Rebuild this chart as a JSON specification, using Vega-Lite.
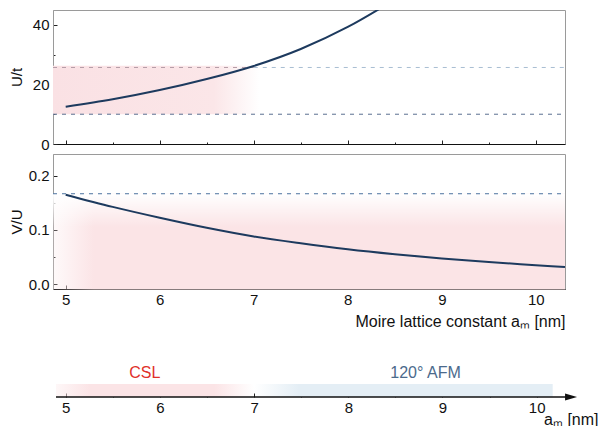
{
  "$schema": "https://vega.github.io/schema/vega-lite/v6.json",
  "padding": {"left": 8, "top": 9, "right": 0, "bottom": 0},
  "bounds": "flush",
  "spacing": 10,
  "config": {
    "font": "Liberation Sans",
    "view": {"stroke": "#9a9a9a", "strokeWidth": 1},
    "axis": {"grid": false, "labelFontSize": 15, "titleFontSize": 16, "titleFontWeight": "normal", "labelColor": "#111", "titleColor": "#111", "tickColor": "#222", "labelFont": "Liberation Sans", "titleFont": "Liberation Sans"}
  },
  "datasets": {
    "ut": [
      {"a": 5.0, "v": 12.5}, {"a": 5.5, "v": 15.0}, {"a": 6.0, "v": 18.1}, {"a": 6.5, "v": 21.8},
      {"a": 7.0, "v": 26.2}, {"a": 7.5, "v": 31.9}, {"a": 8.0, "v": 39.3}, {"a": 8.5, "v": 48.5}
    ],
    "vu": [
      {"a": 5.0, "v": 0.165}, {"a": 5.5, "v": 0.1425}, {"a": 6.0, "v": 0.1225}, {"a": 6.5, "v": 0.104},
      {"a": 7.0, "v": 0.088}, {"a": 7.5, "v": 0.0755}, {"a": 8.0, "v": 0.0645}, {"a": 8.5, "v": 0.0553},
      {"a": 9.0, "v": 0.0473}, {"a": 9.5, "v": 0.0407}, {"a": 10.0, "v": 0.035}, {"a": 10.31, "v": 0.0315}
    ],
    "levels": [
      {"panel": "Ut", "kind": "upper-left", "x0": 4.865, "x1": 7.0, "y": 25.7},
      {"panel": "Ut", "kind": "upper-right", "x0": 7.0, "x1": 10.31, "y": 25.7},
      {"panel": "Ut", "kind": "lower", "x0": 4.865, "x1": 10.31, "y": 10},
      {"panel": "VU", "kind": "vu", "x0": 4.865, "x1": 10.31, "y": 0.1667}
    ],
    "regions": [
      {"panel": "Ut", "x0": 4.865, "x1": 7.06, "y0": 10, "y1": 26.3},
      {"panel": "VU", "x0": 4.865, "x1": 10.31, "y0": -0.01, "y1": 0.1667},
      {"panel": "VUfade", "x0": 4.865, "x1": 10.31, "y0": 0.105, "y1": 0.1667},
      {"panel": "CSL", "x0": 4.897, "x1": 7.0, "y0": 0, "y1": 0.133},
      {"panel": "AFM", "x0": 7.0, "x1": 10.17, "y0": 0, "y1": 0.133}
    ],
    "phases": [
      {"name": "CSL", "a": 5.84},
      {"name": "120° AFM", "a": 8.82}
    ],
    "arrow": [
      {"start": 4.897, "end": 10.33, "tip": 10.365, "level": 0}
    ]
  },
  "resolve": {"scale": {"x": "independent", "y": "independent", "color": "independent"}},
  "vconcat": [
    {
      "width": 512,
      "height": 134,
      "layer": [
        {
          "data": {"name": "regions"},
          "transform": [{"filter": "datum.panel === 'Ut'"}],
          "mark": {"type": "rect", "fill": {"gradient": "linear", "x1": 0, "y1": 0, "x2": 1, "y2": 0, "stops": [{"offset": 0, "color": "#fae1e4"}, {"offset": 0.78, "color": "#fbe6e8"}, {"offset": 1, "color": "rgba(251,230,232,0)"}]}},
          "encoding": {
            "x": {"field": "x0", "type": "quantitative"},
            "x2": {"field": "x1"},
            "y": {"field": "y0", "type": "quantitative"},
            "y2": {"field": "y1"}
          }
        },
        {
          "data": {"name": "levels"},
          "transform": [{"filter": "datum.panel === 'Ut'"}],
          "mark": {"type": "rule", "strokeDash": [4, 5], "strokeWidth": 1},
          "encoding": {
            "x": {"field": "x0", "type": "quantitative"},
            "x2": {"field": "x1"},
            "y": {"field": "y", "type": "quantitative"},
            "color": {"field": "kind", "type": "nominal", "scale": {"domain": ["upper-left", "upper-right", "lower"], "range": ["#b49ca6", "#a8bed2", "#5a7090"]}, "legend": null}
          }
        },
        {
          "data": {"name": "ut"},
          "mark": {"type": "line", "color": "#1d3a5e", "strokeWidth": 2, "interpolate": "monotone", "clip": true},
          "encoding": {
            "x": {"field": "a", "type": "quantitative"},
            "y": {"field": "v", "type": "quantitative"}
          }
        }
      ],
      "encoding": {
        "x": {"type": "quantitative", "scale": {"domain": [4.865, 10.31], "nice": false, "zero": false},
          "axis": {"values": [5, 5.5, 6, 6.5, 7, 7.5, 8, 8.5, 9, 9.5, 10], "labels": false, "title": null, "domainColor": "#111", "tickSize": {"condition": {"test": "datum.value % 1 === 0", "value": -4}, "value": -2}}},
        "y": {"type": "quantitative", "scale": {"domain": [0, 45], "nice": false, "zero": false},
          "axis": {"values": [0, 10, 20, 30, 40], "labelExpr": "datum.value % 20 === 0 ? datum.label : ''", "title": "U/t", "titleFontSize": 15, "titleX": -32, "titleBaseline": "alphabetic", "domainColor": "#9a9a9a", "labelPadding": 8, "tickSize": {"condition": {"test": "datum.value % 20 === 0", "value": -4}, "value": -2}}}
      }
    },
    {
      "width": 512,
      "height": 135,
      "layer": [
        {
          "data": {"name": "regions"},
          "transform": [{"filter": "datum.panel === 'VU'"}],
          "mark": {"type": "rect", "fill": {"gradient": "linear", "x1": 0, "y1": 0, "x2": 1, "y2": 0, "stops": [{"offset": 0, "color": "rgba(251,228,230,0.2)"}, {"offset": 0.08, "color": "#fbe4e6"}, {"offset": 1, "color": "#fbe4e6"}]}},
          "encoding": {
            "x": {"field": "x0", "type": "quantitative"},
            "x2": {"field": "x1"},
            "y": {"field": "y0", "type": "quantitative"},
            "y2": {"field": "y1"}
          }
        },
        {
          "data": {"name": "regions"},
          "transform": [{"filter": "datum.panel === 'VUfade'"}],
          "mark": {"type": "rect", "fill": {"gradient": "linear", "x1": 0, "y1": 0, "x2": 0, "y2": 1, "stops": [{"offset": 0, "color": "rgba(255,255,255,1)"}, {"offset": 1, "color": "rgba(255,255,255,0)"}]}},
          "encoding": {
            "x": {"field": "x0", "type": "quantitative"},
            "x2": {"field": "x1"},
            "y": {"field": "y0", "type": "quantitative"},
            "y2": {"field": "y1"}
          }
        },
        {
          "data": {"name": "levels"},
          "transform": [{"filter": "datum.panel === 'VU'"}],
          "mark": {"type": "rule", "strokeDash": [4, 5], "strokeWidth": 1, "color": "#4d74a0"},
          "encoding": {
            "x": {"field": "x0", "type": "quantitative"},
            "x2": {"field": "x1"},
            "y": {"field": "y", "type": "quantitative"}
          }
        },
        {
          "data": {"name": "vu"},
          "mark": {"type": "line", "color": "#1d3a5e", "strokeWidth": 2, "interpolate": "monotone", "clip": true},
          "encoding": {
            "x": {"field": "a", "type": "quantitative"},
            "y": {"field": "v", "type": "quantitative"}
          }
        }
      ],
      "encoding": {
        "x": {"type": "quantitative", "scale": {"domain": [4.865, 10.31], "nice": false, "zero": false},
          "axis": {"values": [5, 5.5, 6, 6.5, 7, 7.5, 8, 8.5, 9, 9.5, 10], "labelExpr": "datum.value % 1 === 0 ? format(datum.value, 'd') : ''", "labelPadding": 7, "title": "Moire lattice constant aₘ [nm]", "titleAnchor": "end", "titlePadding": 6, "domainColor": "#111", "tickSize": {"condition": {"test": "datum.value % 1 === 0", "value": -4}, "value": -2}}},
        "y": {"type": "quantitative", "scale": {"domain": [-0.009, 0.24], "nice": false, "zero": false},
          "axis": {"values": [0, 0.05, 0.1, 0.15, 0.2], "labelExpr": "abs(datum.value*10 - round(datum.value*10)) < 1e-6 ? format(datum.value, '.1f') : ''", "title": "V/U", "titleFontSize": 15, "titleX": -32, "titleBaseline": "alphabetic", "domainColor": "#9a9a9a", "labelPadding": 8, "tickSize": {"condition": {"test": "abs(datum.value*10 - round(datum.value*10)) < 1e-6", "value": -4}, "value": -2}}}
      }
    },
    {
      "width": 524,
      "height": 98,
      "view": {"stroke": null},
      "layer": [
        {
          "data": {"name": "regions"},
          "transform": [{"filter": "datum.panel === 'CSL'"}],
          "mark": {"type": "rect", "fill": {"gradient": "linear", "x1": 0, "y1": 0, "x2": 1, "y2": 0, "stops": [{"offset": 0, "color": "rgba(251,228,230,0.3)"}, {"offset": 0.17, "color": "#fbe4e6"}, {"offset": 0.8, "color": "#fbe4e6"}, {"offset": 1, "color": "rgba(251,228,230,0)"}]}},
          "encoding": {
            "x": {"field": "x0", "type": "quantitative"},
            "x2": {"field": "x1"},
            "y": {"field": "y0", "type": "quantitative"},
            "y2": {"field": "y1"}
          }
        },
        {
          "data": {"name": "regions"},
          "transform": [{"filter": "datum.panel === 'AFM'"}],
          "mark": {"type": "rect", "fill": {"gradient": "linear", "x1": 0, "y1": 0, "x2": 1, "y2": 0, "stops": [{"offset": 0, "color": "rgba(228,238,245,0)"}, {"offset": 0.15, "color": "#e4eef5"}, {"offset": 1, "color": "#e4eef5"}]}},
          "encoding": {
            "x": {"field": "x0", "type": "quantitative"},
            "x2": {"field": "x1"},
            "y": {"field": "y0", "type": "quantitative"},
            "y2": {"field": "y1"}
          }
        },
        {
          "data": {"name": "arrow"},
          "mark": {"type": "rule", "color": "#111", "strokeWidth": 1.5},
          "encoding": {
            "x": {"field": "start", "type": "quantitative"},
            "x2": {"field": "end"},
            "y": {"field": "level", "type": "quantitative"}
          }
        },
        {
          "data": {"name": "arrow"},
          "mark": {"type": "point", "shape": "M-1,-0.6L1,0L-1,0.6Z", "filled": true, "color": "#111", "opacity": 1, "size": 144},
          "encoding": {
            "x": {"field": "tip", "type": "quantitative"},
            "y": {"field": "level", "type": "quantitative"}
          }
        },
        {
          "data": {"name": "phases"},
          "mark": {"type": "text", "fontSize": 16, "font": "Liberation Sans", "baseline": "middle", "align": "center"},
          "encoding": {
            "x": {"field": "a", "type": "quantitative"},
            "y": {"datum": 0.245, "type": "quantitative"},
            "text": {"field": "name"},
            "color": {"field": "name", "type": "nominal", "scale": {"domain": ["CSL", "120° AFM"], "range": ["#e0302a", "#4b6a8c"]}, "legend": null}
          }
        }
      ],
      "encoding": {
        "x": {"type": "quantitative", "scale": {"domain": [4.865, 10.428], "nice": false, "zero": false},
          "axis": {"values": [5, 5.5, 6, 6.5, 7, 7.5, 8, 8.5, 9, 9.5, 10], "labelExpr": "datum.value % 1 === 0 ? format(datum.value, 'd') : ''", "labelPadding": 7, "domain": false, "title": "aₘ [nm]", "titleX": 545, "titleY": 27, "titleAlign": "right", "titleBaseline": "alphabetic", "tickSize": {"condition": {"test": "datum.value % 1 === 0", "value": -4}, "value": -2}}},
        "y": {"type": "quantitative", "scale": {"domain": [0, 1], "nice": false, "zero": false}, "axis": null}
      }
    }
  ]
}
